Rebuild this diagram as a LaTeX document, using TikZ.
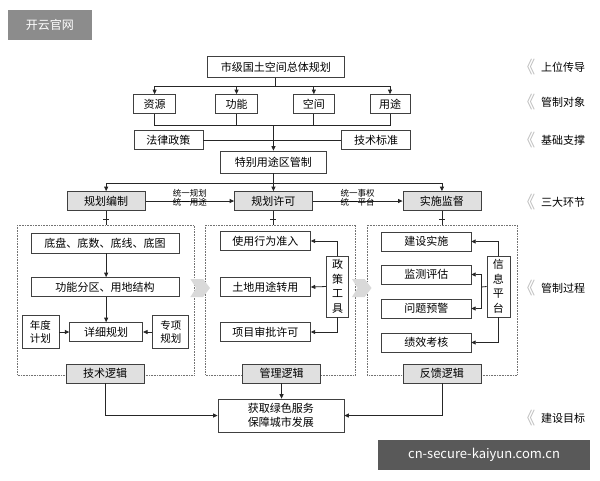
\documentclass[tikz,border=0pt]{standalone}
\usepackage{fontspec}
\setmainfont{Noto Sans CJK SC}
\usetikzlibrary{arrows.meta}
\begin{document}
\begin{tikzpicture}[x=1.1538pt,y=-1pt,
  bx/.style={draw=black!75,line width=0.7pt,fill=white,inner sep=0pt,font=\fontsize{11}{13}\selectfont},
  gbx/.style={bx,fill=black!12},
  cont/.style={draw=black!55,densely dotted,line width=0.6pt},
  ln/.style={draw=black!85,line width=0.8pt},
  ar/.style={ln,-{Triangle[length=4.5pt,width=4pt]}},
  side/.style={anchor=west,font=\fontsize{11}{12}\selectfont},
  chev/.style={anchor=east,text=black!25,font=\fontsize{17}{17}\selectfont},
  sm/.style={font=\fontsize{8.5}{9}\selectfont,align=center,inner sep=0pt}]
\useasboundingbox (0,0) rectangle (520,480);
\fill[white] (0,0) rectangle (520,480);
% watermarks
\node[fill=black!45,text=white,minimum width=84pt,minimum height=30pt,font=\fontsize{12}{13}\selectfont] (wm1) at (43.3,25) {开云官网};
\node[fill=black!65,text=white,minimum width=212pt,minimum height=30pt,font=\fontsize{13}{14}\selectfont] (wm2) at (419.5,455) {cn-secure-kaiyun.com.cn};
% containers
\draw[cont] (15,225) rectangle (168,375);
\draw[cont] (178,225) rectangle (308,375);
\draw[cont] (318,225) rectangle (448,375);
% big arrows
\foreach \xx in {165,305}{
 \fill[black!15] (\xx,279) -- (\xx+11,279) -- (\xx+17,288) -- (\xx+11,297) -- (\xx,297) -- (\xx+5,288) -- cycle;}
% top
\node[bx,minimum width=137pt,minimum height=21pt] (top) at (239,67) {市级国土空间总体规划};
\node[bx,minimum width=42pt,minimum height=19pt] (r1) at (134,104) {资源};
\node[bx,minimum width=42pt,minimum height=19pt] (r2) at (205,104) {功能};
\node[bx,minimum width=40pt,minimum height=19pt] (r3) at (272,104) {空间};
\node[bx,minimum width=40pt,minimum height=19pt] (r4) at (338,104) {用途};
\node[bx,minimum width=69pt,minimum height=19pt] (law) at (146,140) {法律政策};
\node[bx,minimum width=69pt,minimum height=19pt] (std) at (326,140) {技术标准};
\node[bx,minimum width=106pt,minimum height=22pt] (spec) at (237,162) {特别用途区管制};
\coordinate (t1) at (239,86);
\draw[ln] (top.south) -- (t1);
\draw[ln] (r1.north|-t1) -- (r4.north|-t1);
\foreach \n in {r1,r2,r3,r4}{\draw[ar] (\n.north|-t1) -- (\n.north);}
\coordinate (b1) at (237,125);
\draw[ln] (r1.south) -- (r1.south|-b1) -- (r4.south|-b1) -- (r4.south);
\draw[ln] (r2.south) -- (r2.south|-b1);
\draw[ln] (r3.south) -- (r3.south|-b1);
\draw[ln] (law.east) -- (std.west);
\draw[ar] (b1) -- (spec.north);
% three stages
\node[gbx,minimum width=78pt,minimum height=19pt] (s1) at (92,201) {规划编制};
\node[gbx,minimum width=78pt,minimum height=19pt] (s2) at (237,201) {规划许可};
\node[gbx,minimum width=78pt,minimum height=19pt] (s3) at (383,201) {实施监督};
\coordinate (h1) at (237,183);
\draw[ln] (spec.south) -- (h1);
\draw[ln] (s1.north|-h1) -- (s3.north|-h1);
\foreach \n in {s1,s2,s3}{\draw[ar] (\n.north|-h1) -- (\n.north);}
\draw[ar] (s1.east) -- node[sm,above=-6pt] (l1) {统一规划\\统一用途} (s2.west);
\draw[ar] (s2.east) -- node[sm,above=-6pt] (l2) {统一事权\\统一平台} (s3.west);
\foreach \n in {s1,s2,s3}{\draw[ln] (\n.south) -- (\n.south|-0,225); \draw[ln] ([xshift=-3pt]\n.south|-0,219) -- ([xshift=3pt]\n.south|-0,219);}
% left container
\node[bx,minimum width=148pt,minimum height=20pt] (a1) at (91,243) {底盘、底数、底线、底图};
\node[bx,minimum width=148pt,minimum height=19pt] (a2) at (91,287) {功能分区、用地结构};
\node[bx,minimum width=73pt,minimum height=19pt] (a3) at (92,332) {详细规划};
\node[bx,minimum width=37pt,minimum height=33pt,align=center,font=\fontsize{10.5}{13}\selectfont] (a4) at (35,332) {年度\\计划};
\node[bx,minimum width=36pt,minimum height=33pt,align=center,font=\fontsize{10.5}{13}\selectfont] (a5) at (148,332) {专项\\规划};
\draw[ar] (a1.south-|a3.north) -- (a3.north|-a2.north);
\draw[ar] (a2.south-|a3.north) -- (a3.north);
\draw[ar] (a4.east) -- (a3.west);
\draw[ar] (a5.west) -- (a3.east);
% middle container
\node[bx,minimum width=90pt,minimum height=19pt] (m1) at (230,241) {使用行为准入};
\node[bx,minimum width=90pt,minimum height=19pt] (m2) at (230,287) {土地用途转用};
\node[bx,minimum width=90pt,minimum height=19pt] (m3) at (230,332) {项目审批许可};
\node[bx,minimum width=22pt,minimum height=61pt,align=center,font=\fontsize{11}{14.5}\selectfont] (mt) at (292.5,286.5) {政\\策\\工\\具};
\draw[ar] (mt.north) |- (m1.east);
\draw[ar] (mt.west) -- (m2.east);
\draw[ar] (mt.south) |- (m3.east);
% right container
\node[bx,minimum width=89pt,minimum height=19pt] (n1) at (369.5,241.5) {建设实施};
\node[bx,minimum width=89pt,minimum height=19pt] (n2) at (369.5,274.5) {监测评估};
\node[bx,minimum width=89pt,minimum height=19pt] (n3) at (369.5,308.5) {问题预警};
\node[bx,minimum width=89pt,minimum height=19pt] (n4) at (369.5,342.5) {绩效考核};
\node[bx,minimum width=23pt,minimum height=61pt,align=center,font=\fontsize{11}{14.5}\selectfont] (nt) at (432,286.5) {信\\息\\平\\台};
\draw[ar] (nt.north) |- (n1.east);
\draw[ar] (nt.south) |- (n4.east);
\coordinate (j) at (417,287);
\draw[ln] (nt.west) -- (j);
\draw[ar] (j) |- (n2.east);
\draw[ar] (j) |- (n3.east);
% logic boxes
\node[gbx,minimum width=78pt,minimum height=19pt] (g1) at (91,373.5) {技术逻辑};
\node[gbx,minimum width=78pt,minimum height=19pt] (g2) at (244,373.5) {管理逻辑};
\node[gbx,minimum width=78pt,minimum height=19pt] (g3) at (383,373.5) {反馈逻辑};
\node[bx,minimum width=126pt,minimum height=33pt,align=center,font=\fontsize{11}{14}\selectfont] (goal) at (243.5,415.5) {获取绿色服务\\保障城市发展};
\draw[ar] (g1.south) |- (goal.west);
\draw[ar] (g2.south) -- (goal.north-|g2.south);
\draw[ar] (g3.south) |- (goal.east);
% side labels
\foreach \yy/\tt/\nm in {67/上位传导/k1,102/管制对象/k2,140/基础支撑/k3,202/三大环节/k4,288/管制过程/k5,418/建设目标/k6}{
 \node[chev] (c\nm) at (467,\yy) {《};
 \node[side] (\nm) at (466,\yy) {\tt};}
\end{tikzpicture}
\end{document}
